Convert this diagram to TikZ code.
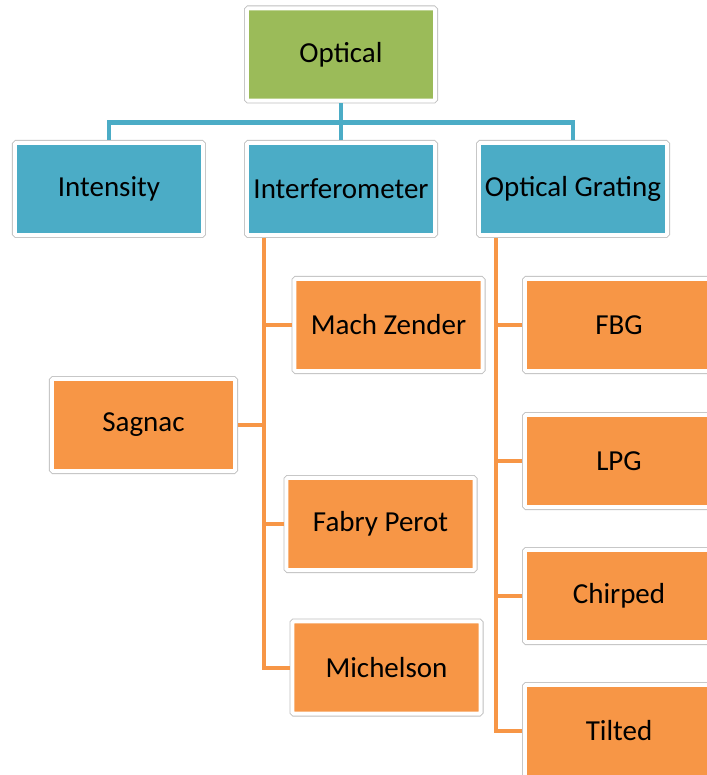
\documentclass[tikz,border=0pt]{standalone}
\usepackage{fontspec}
\newfontfamily\boxfont{Carlito}
\usepackage[dvipsnames]{xcolor}
\definecolor{optgreen}{HTML}{9BBB59}
\definecolor{optblue}{HTML}{4BACC6}
\definecolor{optorange}{HTML}{F79646}

\begin{document}
\begin{tikzpicture}[node distance=232pt,
    box node/.style={rectangle,draw=white,line width=4pt,preaction={draw=black!25,line width=5.6pt},rounded corners=1.5pt,minimum width=188.4pt,minimum height=92.4pt,inner sep=0pt,outer sep=2.8pt,font=\boxfont\fontsize{29}{33}\selectfont},
    top node/.style={box node,fill=optgreen},
    cat node/.style={box node,fill=optblue},
    leaf node/.style={box node,fill=optorange},
    cat link/.style={draw=optblue,line width=4.5pt},
    leaf link/.style={draw=optorange,line width=4pt}]
            \useasboundingbox (-341pt,54.5pt) rectangle (365pt,-720.5pt);

            \node[top node] (optical) {Optical};
            \node[cat node] (interf)[below of = optical, node distance=134.5pt] {Interferometer};
            \node[cat node] (intensity)[left of = interf] {Intensity};
            \node[cat node] (grating)[right of = interf] {Optical Grating};

            \node[leaf node] (mach)[below of = interf, node distance=136pt, xshift=47.5pt] {Mach Zender};
            \node[leaf node, minimum width=183.4pt] (sagnac)[below of = mach, node distance=100pt, xshift=-245pt] {Sagnac};
            \node[leaf node] (fabry)[below of = mach, node distance=199pt, xshift=-8pt] {Fabry Perot};
            \node[leaf node] (michelson)[below of = fabry, node distance=143.5pt, xshift=6pt] {Michelson};

            \node[leaf node] (fbg)[below of = grating, node distance=136pt, xshift=46pt] {FBG};
            \node[leaf node] (lpg)[below of = fbg, node distance=136pt] {LPG};
            \node[leaf node] (chirped)[below of = lpg, node distance=135pt] {Chirped};
            \node[leaf node] (tilted)[below of = chirped, node distance=135pt] {Tilted};

            % first level
            \coordinate (obus) at ([yshift=-19pt]optical.south);
            \draw[cat link] (optical.south) -- (obus) -| (intensity.north);
            \draw[cat link] (obus) -| (grating.north);
            \draw[cat link] (obus) -- (interf.north);

            % interferometer branch
            \coordinate (ibus) at ([xshift=19.5pt]interf.south west);
            \draw[leaf link] (ibus) |- (michelson.west);
            \draw[leaf link] (ibus |- mach.west) -- (mach.west);
            \draw[leaf link] (ibus |- sagnac.east) -- (sagnac.east);
            \draw[leaf link] (ibus |- fabry.west) -- (fabry.west);

            % grating branch
            \coordinate (gbus) at ([xshift=20pt]grating.south west);
            \draw[leaf link] (gbus) |- (tilted.west);
            \draw[leaf link] (gbus |- fbg.west) -- (fbg.west);
            \draw[leaf link] (gbus |- lpg.west) -- (lpg.west);
            \draw[leaf link] (gbus |- chirped.west) -- (chirped.west);
        \end{tikzpicture}
\end{document}
